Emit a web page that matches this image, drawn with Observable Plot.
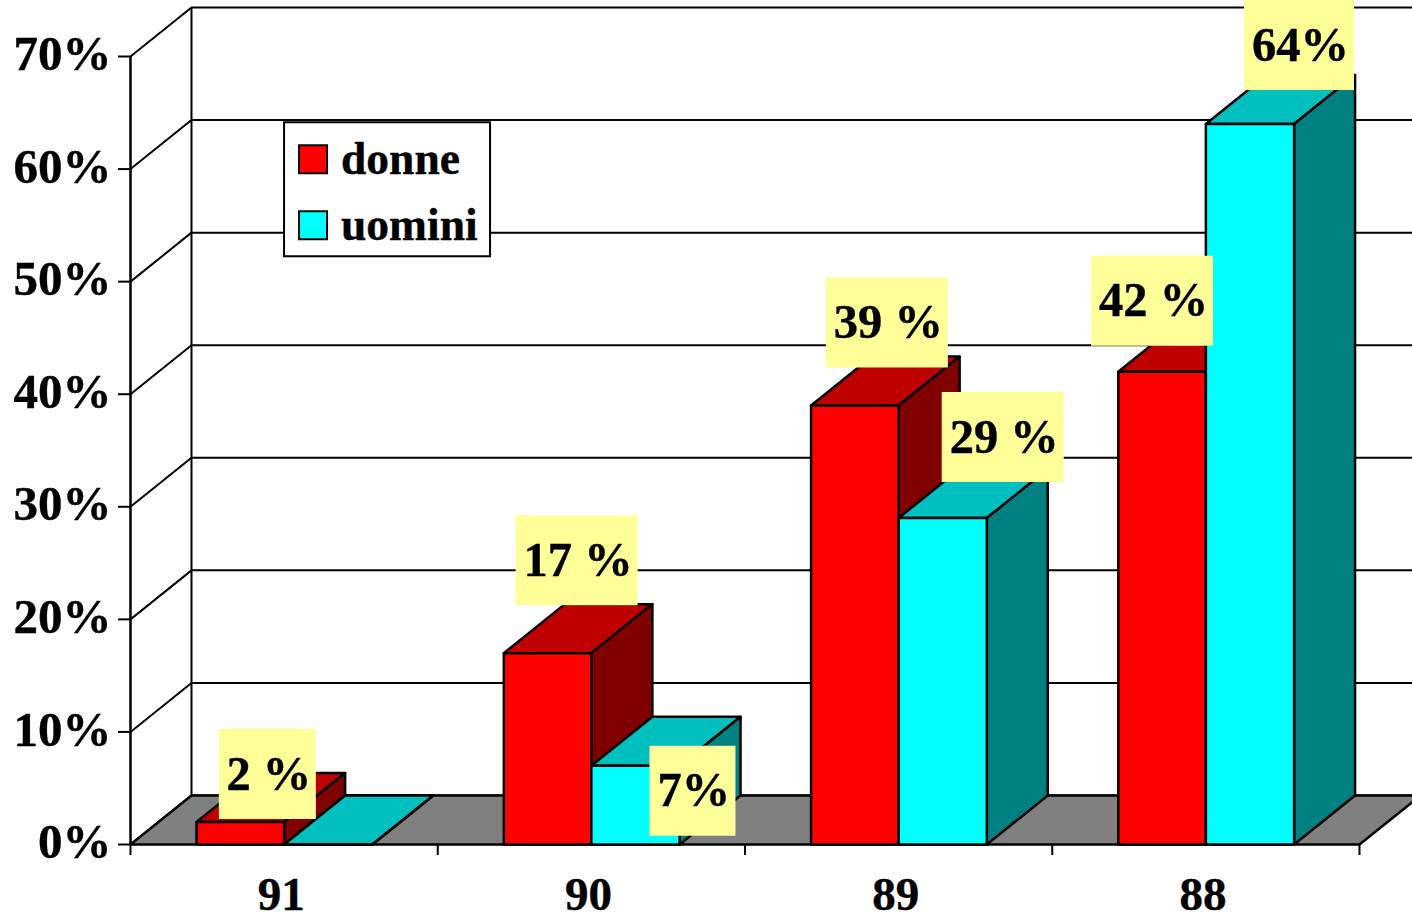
<!DOCTYPE html>
<html>
<head>
<meta charset="utf-8">
<script src="https://cdn.jsdelivr.net/npm/d3@7"></script>
<script src="https://cdn.jsdelivr.net/npm/@observablehq/plot@0.6"></script>
<style>
html,body{margin:0;padding:0;background:#fff;overflow:hidden}
svg{display:block;overflow:hidden}
</style>
</head>
<body>
<div id="chart"></div>
<script>
const years = ["91", "90", "89", "88"];
const donne = [2, 17, 39, 42];
const uomini = [0, 7, 29, 64];
const donneLabels = ["2 %", "17 %", "39 %", "42 %"];
const uominiLabels = ["", "7%", "29 %", "64%"];
const yTicks = [0, 10, 20, 30, 40, 50, 60, 70];

// oblique projection of the chart's depth, in scale units
const DX = 0.1985, DY = 4.353;
const NARROW = 0.215, MID = 0.5, WIDE = 0.787;
const FONT = "Liberation Serif";
const TEXT = {fontWeight: "bold", fontFamily: FONT, fill: "#000", stroke: "#000", strokeWidth: 0.4};

function prism(id, x1, x2, v, front, top, side) {
  const p = (name, fill, pts) => pts.map(([x, y]) => ({id: id + name, fill, x, y}));
  return [
    ...p("top", top, [[x1, v], [x2, v], [x2 + DX, v + DY], [x1 + DX, v + DY]]),
    ...p("side", side, [[x2, 0], [x2, v], [x2 + DX, v + DY], [x2 + DX, DY]]),
    ...p("front", front, [[x1, 0], [x2, 0], [x2, v], [x1, v]])
  ];
}
const faces = years.flatMap((_, i) => [
  ...prism("d" + i, i + NARROW, i + MID, donne[i], "#ff0000", "#bf0000", "#800000"),
  ...prism("u" + i, i + MID, i + WIDE, uomini[i], "#00ffff", "#00bfbf", "#008080")
]);

const floor = [[0, 0], [4, 0], [4 + DX, DY], [DX, DY]].map(([x, y]) => ({x, y}));
const grid = yTicks.flatMap(t => [
  {t, x: 0, y: t}, {t, x: DX, y: t + DY}, {t, x: 4.3, y: t + DY}
]);

// label placement: offsets from the middle of the bar's front top edge
const boxes = [
  {text: donneLabels[0], x: NARROW + (MID - NARROW) / 2, v: donne[0], dx: 27, dy: -48, w: 97},
  {text: donneLabels[1], x: 1 + NARROW + (MID - NARROW) / 2, v: donne[1], dx: 29, dy: -93, w: 122},
  {text: uominiLabels[1], x: 1 + MID + (WIDE - MID) / 2, v: uomini[1], dx: 57, dy: 25, w: 86},
  {text: donneLabels[2], x: 2 + NARROW + (MID - NARROW) / 2, v: donne[2], dx: 32, dy: -83, w: 122},
  {text: uominiLabels[2], x: 2 + MID + (WIDE - MID) / 2, v: uomini[2], dx: 60, dy: -81, w: 122},
  {text: donneLabels[3], x: 3 + NARROW + (MID - NARROW) / 2, v: donne[3], dx: -10, dy: -71, w: 122},
  {text: uominiLabels[3], x: 3 + MID + (WIDE - MID) / 2, v: uomini[3], dx: 49, dy: -79, w: 110}
];
const boxSymbol = (w, h) => ({draw(c) { c.rect(-w / 2, -h / 2, w, h); }});
const labelMarks = boxes.flatMap(b => [
  Plot.dot([b], {x: "x", y: "v", dx: b.dx, dy: b.dy, symbol: boxSymbol(b.w, 90), fill: "#ffff99", stroke: "none"}),
  Plot.text([b], {x: "x", y: "v", dx: b.dx + 1.5, dy: b.dy, text: "text", fontSize: 48.5, ...TEXT})
]);

// legend, anchored at a spot on the back wall and laid out in pixels from there
const legendAt = [{x: 0.835, y: 58.2}];
const legendEntries = [
  {name: "donne", fill: "#ff0000", dy: -30},
  {name: "uomini", fill: "#00ffff", dy: 36}
];
const legendMarks = [
  Plot.dot(legendAt, {x: "x", y: "y", symbol: boxSymbol(206, 134), fill: "#fff", stroke: "#000", strokeWidth: 2}),
  ...legendEntries.flatMap(e => [
    Plot.dot(legendAt, {x: "x", y: "y", dx: -74, dy: e.dy, symbol: boxSymbol(28, 28), fill: e.fill, stroke: "#000", strokeWidth: 2}),
    Plot.text(legendAt, {x: "x", y: "y", dx: -46, dy: e.dy, text: () => e.name, textAnchor: "start", fontSize: 45.5, ...TEXT})
  ])
];

const chart = Plot.plot({
  width: 1412,
  height: 915,
  marginLeft: 130,
  marginRight: 53,
  marginTop: 56,
  marginBottom: 71,
  style: {background: "#fff", fontFamily: FONT, overflow: "hidden"},
  x: {domain: [0, 4], axis: null},
  y: {domain: [0, 70], axis: null},
  marks: [
    // back wall + left wall grid
    Plot.ruleX([DX], {y1: DY, y2: 70 + DY, stroke: "#000", strokeWidth: 2}),
    Plot.line(grid, {x: "x", y: "y", z: "t", stroke: "#000", strokeWidth: 2}),
    // floor
    Plot.line(floor, {x: "x", y: "y", fill: "#808080", stroke: "#000", strokeWidth: 2.5, curve: "linear-closed"}),
    // axes
    Plot.ruleX([0], {y1: 0, y2: 70, stroke: "#000", strokeWidth: 2.5}),
    Plot.axisY(yTicks, {anchor: "left", tickSize: 12, tickFormat: () => "", strokeWidth: 2, stroke: "#000", label: null}),
    Plot.text(yTicks, {x: () => 0, y: d => d, dx: -19, dy: -2, text: d => d + "%", textAnchor: "end", fontSize: 49, ...TEXT}),
    Plot.axisX([0, 1, 2, 3, 4], {anchor: "bottom", tickSize: 11, tickFormat: () => "", strokeWidth: 2, stroke: "#000", label: null}),
    Plot.text(years, {x: (d, i) => i + 0.5, y: () => 0, dx: -3, dy: 50, text: d => d, fontSize: 47, ...TEXT}),
    // bars
    Plot.line(faces, {x: "x", y: "y", z: "id", fill: "fill", stroke: "#000", strokeWidth: 2.5, curve: "linear-closed"}),
    ...legendMarks,
    ...labelMarks
  ]
});
document.getElementById("chart").appendChild(chart);
</script>
</body>
</html>
